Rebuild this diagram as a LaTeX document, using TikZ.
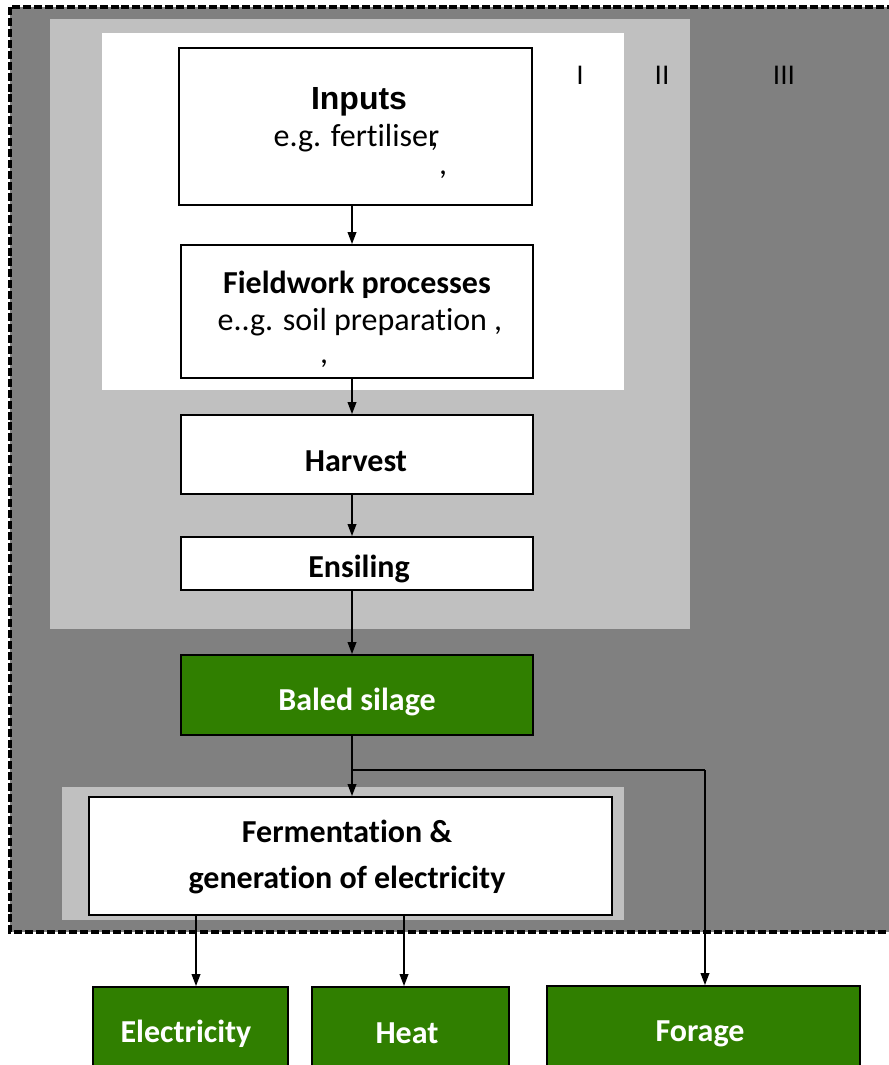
\documentclass[tikz,border=0pt]{standalone}
\usepackage{fontspec}
\setmainfont{Carlito}[Ligatures=NoCommon]
\newfontfamily\arialfont{Liberation Sans}
\usetikzlibrary{arrows.meta,fit}
\definecolor{darkbg}{HTML}{808080}
\definecolor{lightbg}{HTML}{C0C0C0}
\definecolor{leafgreen}{HTML}{307F00}
\begin{document}
\begin{tikzpicture}[x=0.75pt,y=-0.75pt,
  box/.style={draw=black, line width=1.4pt, fill=white, inner sep=0pt},
  greenbox/.style={box, fill=leafgreen},
  lbl/.style={anchor=base, inner sep=0pt, font=\fontsize{24}{28}\selectfont},
  blbl/.style={anchor=base, inner sep=0pt, font=\fontsize{24}{28}\selectfont\bfseries},
  wlbl/.style={blbl, text=white},
  roman/.style={anchor=base, inner sep=0pt, font=\arialfont\fontsize{20}{24}\selectfont},
  arr/.style={line width=1.2pt, -{Triangle[length=9pt,width=6.5pt]}},
  conn/.style={line width=1.2pt}]
\clip (0,0) rectangle (889,1065);
% zones
\fill[white] (0,0) rectangle (889,1065);
\draw[fill=darkbg, line width=2.6pt, dash pattern=on 6pt off 2.2pt] (10,7) rectangle (905,932);
\fill[lightbg] (50,19) rectangle (690,629);
\fill[white] (102,33) rectangle (624,390);
\fill[lightbg] (62,787) rectangle (624,920);
% roman numerals
\node[roman] (r1) at (580,84) {I};
\node[roman] (r2) at (662,84) {II};
\node[roman] (r3) at (784,84) {III};
% boxes
\node[box, fit={(179,48) (532,205)}] (inputs) {};
\node[box, fit={(181,245) (533,378)}] (field) {};
\node[box, fit={(181,415) (533,494)}] (harvest) {};
\node[box, fit={(181,537) (533,590)}] (ensil) {};
\node[greenbox, fit={(181,655) (533,735)}] (baled) {};
\node[box, fit={(89,797) (612,915)}] (ferm) {};
\node[greenbox, fit={(93,987) (288,1085)}] (elec) {};
\node[greenbox, fit={(312,987) (509,1085)}] (heat) {};
\node[greenbox, fit={(547,986) (860,1085)}] (forage) {};
% texts
\node[anchor=base, inner sep=0pt, font=\arialfont\fontsize{24}{28}\selectfont\bfseries] (t1) at (359,109) {Inputs};
\node[lbl] (t2) at (356,146) {e.g. fertiliser\kern-0.28em,};
\node[lbl] (t3) at (443,174) {,};
\node[blbl] (t4) at (357,293) {Fieldwork processes};
\node[lbl] (t5) at (360,330) {e..g. soil preparation ,};
\node[lbl] (t6) at (324,363) {,};
\node[blbl] (t7) at (356,471) {Harvest};
\node[blbl] (t8) at (359,577) {Ensiling};
\node[wlbl] (t9) at (357,710) {Baled silage};
\node[blbl] (t10) at (347,842) {Fermentation \&};
\node[blbl] (t11) at (347,888) {generation of electricity};
\node[wlbl] (t12) at (186,1042) {Electricity};
\node[wlbl] (t13) at (407,1043) {Heat};
\node[wlbl] (t14) at (700,1041) {Forage};
% connectors
\coordinate (spine) at (352,0);
\coordinate (elx) at (196,0);
\coordinate (htx) at (404,0);
\coordinate (fgx) at (705,0);
\coordinate (split) at (352,770);
\coordinate (turn) at (705,770);
\draw[arr] (inputs.south -| spine) -- (field.north -| spine);
\draw[arr] (field.south -| spine) -- (harvest.north -| spine);
\draw[arr] (harvest.south -| spine) -- (ensil.north -| spine);
\draw[arr] (ensil.south -| spine) -- (baled.north -| spine);
\draw[arr] (baled.south -| spine) -- (ferm.north -| spine);
\draw[conn] (split) -- (turn);
\draw[arr] (turn) -- (forage.north -| fgx);
\draw[arr] (ferm.south -| elx) -- (elec.north -| elx);
\draw[arr] (ferm.south -| htx) -- (heat.north -| htx);
\end{tikzpicture}
\end{document}
